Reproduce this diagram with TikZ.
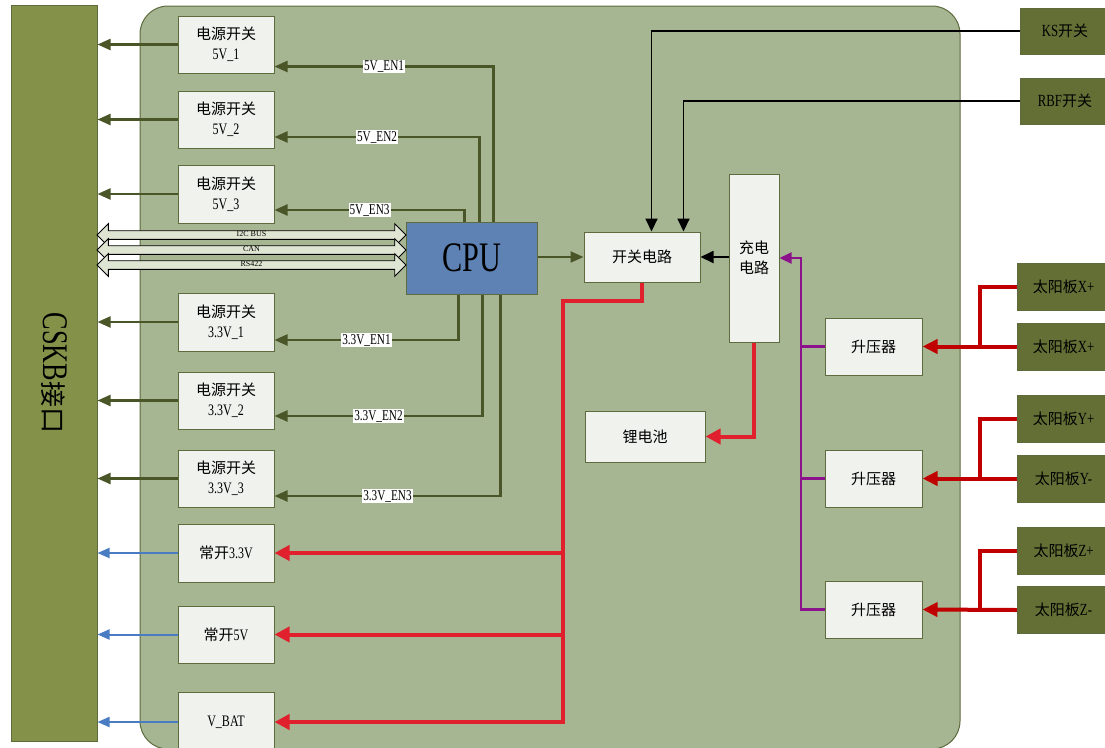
\documentclass[tikz,border=0pt]{standalone}
\usepackage{fontspec}
\usepackage{graphicx}
\setmainfont{Liberation Serif}
\newfontfamily\cjk{Noto Sans CJK SC}
\newfontfamily\lat[FakeStretch=0.75]{Liberation Serif}
\usetikzlibrary{arrows.meta,shapes.arrows}
\definecolor{board}{HTML}{A6B592}
\definecolor{edge}{HTML}{5E6B3D}
\definecolor{cskbfill}{HTML}{839149}
\definecolor{panelfill}{HTML}{636F35}
\definecolor{boxfill}{HTML}{F0F2EE}
\definecolor{cpufill}{HTML}{5E82B3}
\definecolor{olivearrow}{HTML}{4A5628}
\definecolor{bluearrow}{HTML}{4A7CC4}
\definecolor{powerred}{HTML}{E0202C}
\definecolor{solarred}{HTML}{C00000}
\definecolor{chargepurple}{HTML}{8B128B}
\definecolor{busfill}{HTML}{DFE5D3}

\newcommand{\zh}[1]{{\cjk\fontsize{15}{20}\selectfont #1}}

\tikzset{
  box/.style={draw=edge, fill=boxfill, line width=1pt, minimum width=96pt,
    minimum height=57pt, align=center, inner sep=1pt,
    font=\lat\fontsize{16}{20}\selectfont},
  panel/.style={draw=edge, fill=panelfill, line width=1pt, minimum width=90pt,
    minimum height=46pt, inner sep=1pt, font=\lat\fontsize{17}{20}\selectfont},
  outarrow/.style={draw=olivearrow, line width=2.2pt, -{Triangle[length=13pt,width=11pt]}},
  bluearr/.style={draw=bluearrow, line width=2pt, -{Triangle[length=12pt,width=10pt]}},
  enline/.style={draw=olivearrow, line width=2.2pt, -{Triangle[length=13pt,width=11pt]}},
  enlabel/.style={fill=white, inner sep=1pt, font=\lat\fontsize{15}{15}\selectfont},
  busarrow/.style={double arrow, draw=black, fill=busfill, line width=0.8pt,
    minimum height=309pt, double arrow head extend=7pt, double arrow tip angle=90,
    inner xsep=0pt, inner ysep=1.2pt, text height=4.5pt, text depth=1pt,
    font=\fontsize{8}{8}\selectfont},
  blkarrow/.style={draw=black, line width=1.8pt, -{Triangle[length=13pt,width=12pt]}},
  redarrow/.style={draw=powerred, line width=4pt, -{Triangle[length=15pt,width=15pt]}},
  redline/.style={draw=powerred, line width=4pt},
  solararrow/.style={draw=solarred, line width=4pt, -{Triangle[length=15pt,width=14pt]}},
  solarline/.style={draw=solarred, line width=4pt},
  purparrow/.style={draw=chargepurple, line width=2.2pt, -{Triangle[length=12pt,width=11pt]}},
  purpline/.style={draw=chargepurple, line width=2.2pt}
}

\begin{document}
\begin{tikzpicture}[x=1pt, y=-1pt]
  \useasboundingbox (0,0) rectangle (1105,747);

  % board and interface
  \draw[draw=edge, fill=board, line width=1pt, rounded corners=28pt] (140,6) rectangle (960,749);
  \node[draw=edge, fill=cskbfill, line width=1pt, minimum width=86pt, minimum height=736pt]
    (cskb) at (54,373) {};
  \node[rotate=-90, inner sep=0pt] (cskblabel) at (cskb.center)
    {\fontsize{36}{36}\selectfont\scalebox{0.73}[1]{CSKB}{\cjk\fontsize{26}{26}\selectfont 接口}};

  % power switches
  \node[box] (sw1) at (226,44.5) {\zh{电源开关}\\5V\_1};
  \node[box] (sw2) at (226,119.5) {\zh{电源开关}\\5V\_2};
  \node[box, minimum height=58pt] (sw3) at (226,194) {\zh{电源开关}\\5V\_3};
  \node[box, minimum height=58pt] (sw4) at (226,322) {\zh{电源开关}\\3.3V\_1};
  \node[box] (sw5) at (226,400.5) {\zh{电源开关}\\3.3V\_2};
  \node[box] (sw6) at (226,478.5) {\zh{电源开关}\\3.3V\_3};
  \node[box, minimum height=58pt] (on33) at (226,553) {\zh{常开}3.3V};
  \node[box] (on5) at (226,634.5) {\zh{常开}5V};
  \node[box, minimum height=60pt] (vbat) at (226,722) {V\_BAT};

  % cpu and buses
  \node[draw=edge, fill=cpufill, line width=1pt, minimum width=131pt, minimum height=72pt,
    font=\fontsize{42}{42}\selectfont] (cpu) at (471.5,258) {\scalebox{0.72}[1]{CPU}};
  \node[busarrow] (i2c) at (251.5,235) {I2C BUS};
  \node[busarrow] (can) at (251.5,250) {CAN};
  \node[busarrow] (rs) at (251.5,265) {RS422};

  % power path
  \node[box, minimum width=116pt, minimum height=50pt] (swc) at (642,257) {\zh{开关电路}};
  \node[box, minimum width=50pt, minimum height=168pt] (chg) at (754,258) {\zh{充电}\\\zh{电路}};
  \node[box, minimum width=120pt, minimum height=51pt] (bat) at (645,436.5) {\zh{锂电池}};
  \node[box, minimum width=97pt] (up1) at (873.5,346.5) {\zh{升压器}};
  \node[box, minimum width=97pt] (up2) at (873.5,478.5) {\zh{升压器}};
  \node[box, minimum width=97pt] (up3) at (873.5,609.5) {\zh{升压器}};

  % outside inputs
  \node[panel] (ks) at (1065,31) {KS\zh{开关}};
  \node[panel] (rbf) at (1065,101) {RBF\zh{开关}};
  \node[panel, minimum width=93pt, minimum height=47pt] (sx1) at (1063.5,286.5) {\zh{太阳板}X+};
  \node[panel, minimum width=93pt, minimum height=47pt] (sx2) at (1063.5,346.5) {\zh{太阳板}X+};
  \node[panel, minimum width=93pt, minimum height=47pt] (sy1) at (1063.5,418.5) {\zh{太阳板}Y+};
  \node[panel, minimum width=93pt, minimum height=47pt] (sy2) at (1063.5,478.5) {\zh{太阳板}Y-};
  \node[panel, minimum width=93pt, minimum height=47pt] (sz1) at (1063.5,550.5) {\zh{太阳板}Z+};
  \node[panel, minimum width=93pt, minimum height=47pt] (sz2) at (1063.5,610) {\zh{太阳板}Z-};

  % outputs to the interface
  \foreach \n in {sw1,sw2,sw3,sw4,sw5,sw6}
    \draw[outarrow] (\n.west) -- (\n.west -| cskb.east);
  \foreach \n in {on33,on5,vbat}
    \draw[bluearr] (\n.west) -- (\n.west -| cskb.east);

  % enable signals
  \draw[enline] ([xshift=88pt]cpu.north west) |- ([yshift=-22pt]sw1.east)
    node[enlabel, pos=0.75] {5V\_EN1};
  \draw[enline] ([xshift=74pt]cpu.north west) |- ([yshift=-17.5pt]sw2.east)
    node[enlabel, pos=0.75] {5V\_EN2};
  \draw[enline] ([xshift=59pt]cpu.north west) |- ([yshift=-16pt]sw3.east)
    node[enlabel, pos=0.75] {5V\_EN3};
  \draw[enline] ([xshift=53pt]cpu.south west) |- ([yshift=-18pt]sw4.east)
    node[enlabel, pos=0.75] {3.3V\_EN1};
  \draw[enline] ([xshift=77pt]cpu.south west) |- ([yshift=-15.5pt]sw5.east)
    node[enlabel, pos=0.75] {3.3V\_EN2};
  \draw[enline] ([xshift=95pt]cpu.south west) |- ([yshift=-17.5pt]sw6.east)
    node[enlabel, pos=0.75] {3.3V\_EN3};

  \draw[outarrow] (cpu.east |- swc.west) -- (swc.west);
  \draw[blkarrow] (ks.west) -| ([xshift=68pt]swc.north west);
  \draw[blkarrow] (rbf.west) -| ([xshift=100pt]swc.north west);
  \draw[blkarrow] (chg.west |- swc.east) -- (swc.east);

  % battery power
  \coordinate (rbus) at (563,301);
  \draw[redarrow] (swc.south) |- (rbus) |- (vbat.east);
  \draw[redarrow] (rbus |- on33.east) -- (on33.east);
  \draw[redarrow] (rbus |- on5.east) -- (on5.east);
  \draw[redarrow] (chg.south) |- (bat.east);

  % solar charging
  \coordinate (pbus) at (801,258);
  \draw[purparrow] (up3.west) -| (pbus) -- (chg.east |- pbus);
  \draw[purpline] (up1.west) -- (up1.west -| pbus);
  \draw[purpline] (up2.west) -- (up2.west -| pbus);
  \foreach \a/\b/\u in {sx1/sx2/up1, sy1/sy2/up2, sz1/sz2/up3} {
    \draw[solarline] (\a.west) -- ++(-37,0) |- (\b.west);
    \draw[solararrow] (\b.west) -- (\u.east);
  }
\end{tikzpicture}
\end{document}
